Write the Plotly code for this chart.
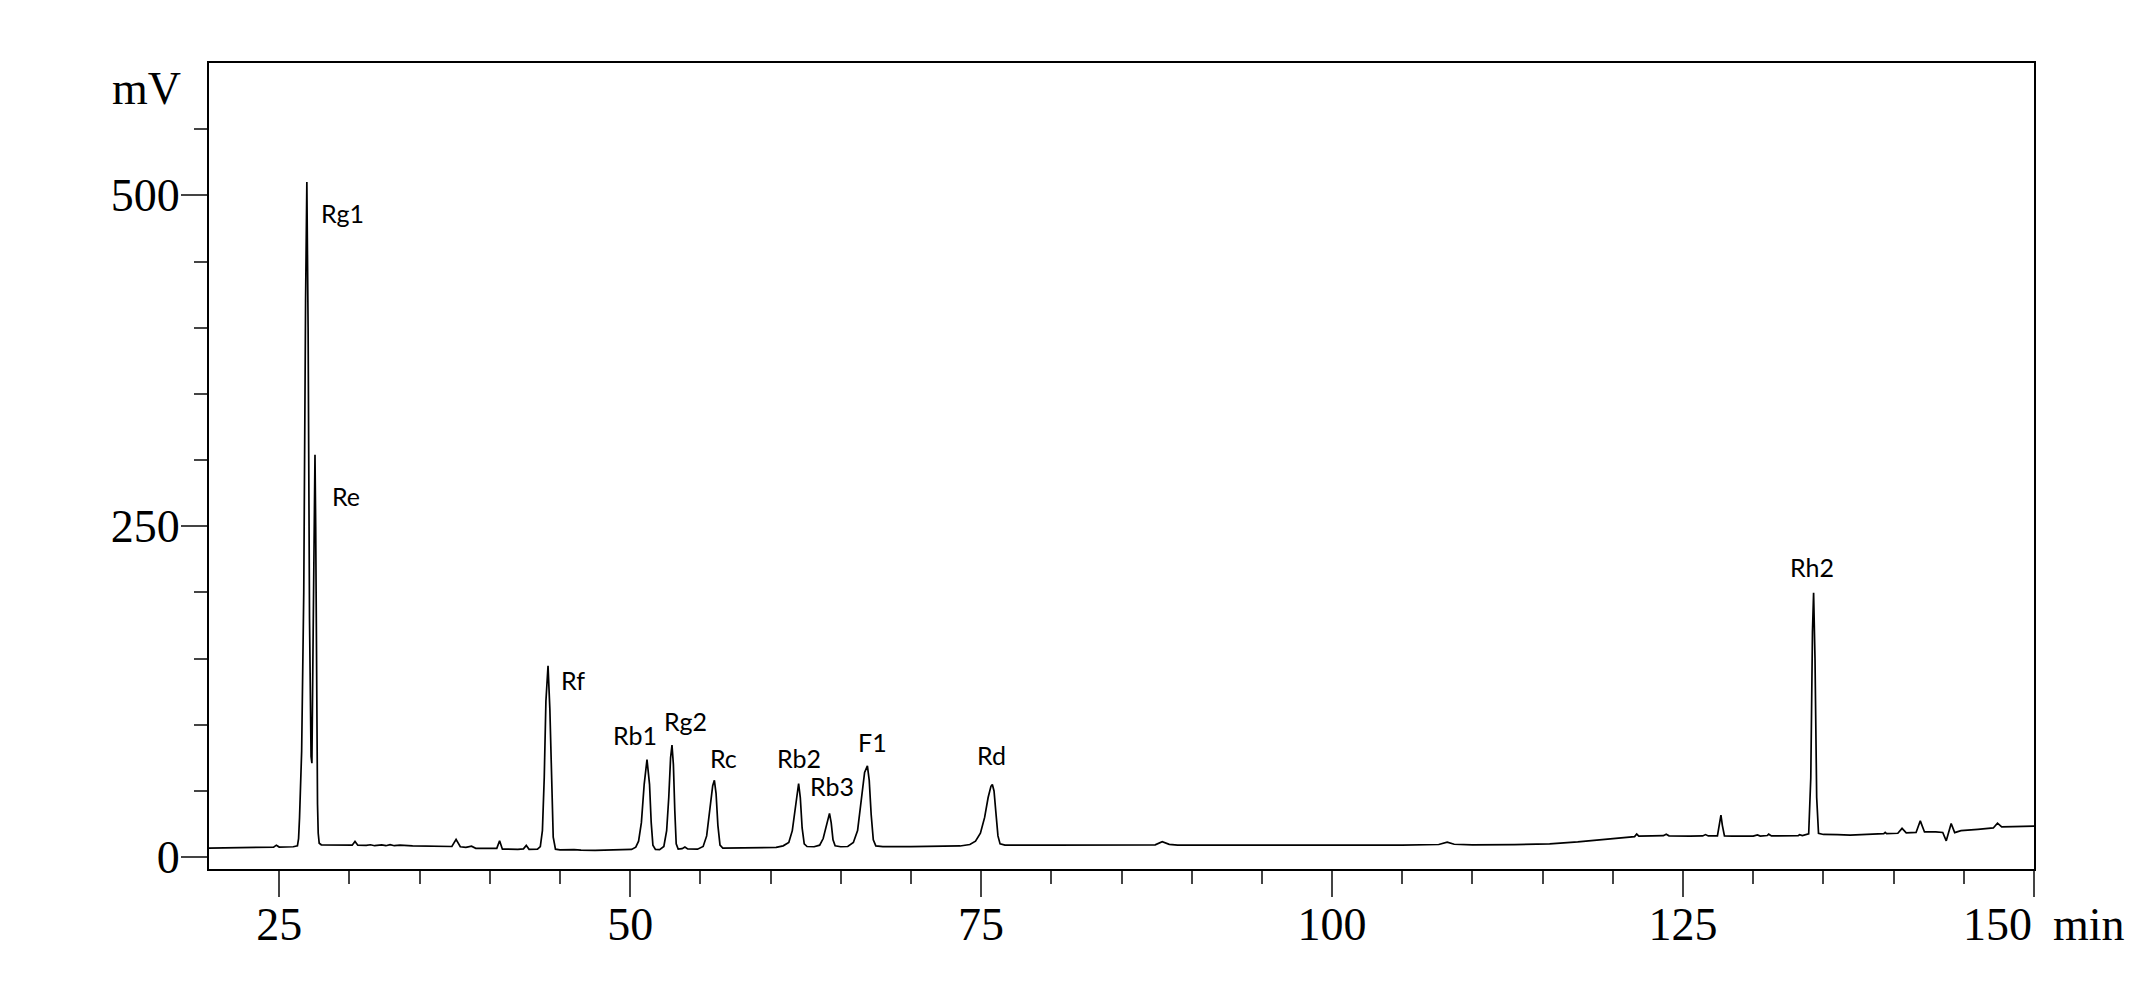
import plotly.graph_objects as go

# chromatogram trace (retention time in min, detector signal in mV)
ret_time = [
    20.0, 22.0, 24.2, 24.6, 24.8, 25.0, 26.0, 26.3, 26.38, 26.45,
    26.6, 26.75, 26.88, 26.97, 27.06, 27.16, 27.27, 27.33, 27.42, 27.5,
    27.55, 27.6, 27.67, 27.73, 27.78, 27.85, 28.0, 29.5, 30.2, 30.4,
    30.6, 31.2, 31.5, 31.8, 32.3, 32.6, 32.9, 33.2, 33.6, 34.5,
    35.5, 36.5, 37.3, 37.6, 37.9, 38.3, 38.7, 39.0, 40.0, 40.5,
    40.7, 40.9, 42.0, 42.4, 42.6, 42.8, 43.4, 43.6, 43.75, 43.88,
    44.0, 44.15, 44.28, 44.4, 44.52, 44.68, 45.0, 46.0, 46.5, 47.5,
    48.5, 49.5, 50.1, 50.4, 50.6, 50.8, 51.0, 51.2, 51.38, 51.5,
    51.62, 51.8, 52.1, 52.4, 52.6, 52.75, 52.88, 52.98, 53.08, 53.18,
    53.28, 53.42, 53.7, 53.9, 54.1, 54.8, 55.2, 55.45, 55.7, 55.88,
    56.0, 56.12, 56.25, 56.4, 56.6, 57.5, 59.0, 60.4, 60.9, 61.3,
    61.55, 61.75, 61.9, 62.0, 62.12, 62.25, 62.4, 62.6, 63.1, 63.5,
    63.75, 63.95, 64.08, 64.2, 64.32, 64.45, 64.6, 65.0, 65.5, 65.9,
    66.2, 66.45, 66.7, 66.9, 67.03, 67.17, 67.32, 67.5, 68.0, 70.0,
    72.0, 73.5, 74.2, 74.6, 74.95, 75.25, 75.5, 75.7, 75.8, 75.92,
    76.05, 76.2, 76.35, 76.7, 80.0, 85.0, 87.4, 87.9, 88.4, 89.0,
    95.0, 100.0, 105.0, 107.6, 108.2, 108.7, 110.0, 113.0, 115.5, 117.5,
    119.6, 121.2, 121.55, 121.7, 121.85, 122.8, 123.6, 123.8, 124.0, 125.5,
    126.4, 126.6, 126.8, 127.45, 127.6, 127.7, 127.8, 127.95, 128.5, 130.0,
    130.3, 130.5, 131.0, 131.1, 131.3, 133.2, 133.3, 133.5, 133.95, 134.1,
    134.22, 134.3, 134.4, 134.52, 134.65, 135.0, 136.0, 136.9, 138.5, 139.3,
    139.4, 139.5, 140.3, 140.6, 140.9, 141.6, 141.9, 142.2, 143.0, 143.5,
    143.75, 144.1, 144.35, 144.8, 146.0, 147.1, 147.4, 147.7, 148.5, 150.0,
]
signal_mv = [
    6.8, 6.9, 7.2, 7.5, 9.0, 7.6, 7.8, 8.5, 14, 30,
    80, 200, 420, 510, 400, 180, 76, 71, 170, 285,
    304, 250, 120, 40, 18, 10.5, 9.3, 9.0, 9.0, 11.8,
    9.0, 8.8, 9.3, 8.6, 9.2, 8.6, 9.4, 8.6, 9.0, 8.4,
    8.3, 8.0, 8.0, 13.4, 7.8, 7.4, 8.2, 6.6, 6.5, 6.6,
    12.3, 6.0, 5.9, 6.2, 8.8, 5.9, 6.0, 8, 20, 60,
    118, 144.6, 112, 50, 15, 6.0, 5.4, 5.6, 5.2, 5.1,
    5.4, 5.5, 5.8, 7.5, 12, 26, 55, 73.7, 55, 26,
    9, 5.8, 5.6, 8, 20, 45, 75, 84.6, 70, 35,
    10, 6.0, 6.4, 7.6, 6.2, 6.0, 8, 16, 38, 54,
    58, 48, 24, 9, 6.8, 6.8, 7.0, 7.3, 8.5, 11,
    20, 36, 51, 55.6, 45, 22, 10, 8.0, 7.8, 9,
    14, 23, 30, 33, 26, 13, 8.5, 7.8, 8.0, 11,
    20, 40, 64, 68.9, 58, 32, 13, 8.5, 7.9, 7.9,
    8.1, 8.4, 9.5, 12, 18, 30, 45, 53.5, 54.8, 50,
    34, 16, 10, 9.0, 9.0, 9.0, 9.3, 11.6, 9.6, 9.1,
    9.0, 9.0, 9.1, 9.5, 11.3, 9.7, 9.3, 9.4, 10.0, 11.5,
    13.4, 15.3, 15.5, 17.4, 15.9, 16.0, 16.2, 17.3, 16.1, 15.9,
    16.0, 17.0, 16.0, 16.0, 24, 31.7, 24, 16, 15.8, 15.9,
    16.8, 15.9, 16.3, 17.3, 16.0, 16.2, 16.9, 16.3, 17.5, 60,
    170, 199.7, 150, 45, 18, 17.1, 16.9, 16.6, 17.3, 17.7,
    18.6, 17.7, 18.0, 21.7, 18.3, 18.6, 27.4, 19.0, 19.0, 18.6,
    12.3, 25.4, 18.5, 20.0, 21.0, 22.0, 25.6, 22.8, 23.0, 23.4,
]

# peak names and where their labels sit
peak_names = ["Rg1", "Re", "Rf", "Rb1", "Rg2", "Rc", "Rb2", "Rb3", "F1", "Rd", "Rh2"]
label_time = [27.86, 28.62, 44.95, 50.32, 53.94, 56.67, 62.0, 64.4, 67.26, 75.72, 134.2]
label_mv = [487, 273, 134, 92.5, 102.7, 75.2, 75.2, 53.6, 86.9, 77.0, 219.0]
label_anchor = ["left", "left", "left", "center", "center", "center", "center", "center", "center", "center", "center"]

x_range = [20, 150]
y_range = [-9, 600]
x_ticks = [25, 50, 75, 100, 125, 150]
x_ticktext = ["25", "50", "75", "100", "125", ""]
x_minor = [30, 35, 40, 45, 55, 60, 65, 70, 80, 85, 90, 95, 105, 110, 115, 120, 130, 135, 140, 145]
y_ticks = [0, 250, 500]
y_minor = [50, 100, 150, 200, 300, 350, 400, 450, 550]

SERIF = "Liberation Serif"
SANS = "Lato"
TICK_GREY = "#444444"


def main() -> None:
    fig = go.Figure()
    fig.add_trace(
        go.Scatter(
            x=ret_time,
            y=signal_mv,
            mode="lines",
            line={"color": "black", "width": 1.7},
            showlegend=False,
            hoverinfo="skip",
        )
    )

    annotations = []
    for name, t, mv, anchor in zip(peak_names, label_time, label_mv, label_anchor):
        annotations.append(
            {
                "x": t, "y": mv, "xref": "x", "yref": "y",
                "text": name, "showarrow": False,
                "xanchor": anchor, "yanchor": "middle",
                "font": {"family": SANS, "size": 25, "color": "black"},
            }
        )
    # axis unit labels and the squeezed last tick label
    annotations.append({"x": -0.0143, "y": 0.968, "xref": "paper", "yref": "paper", "text": "mV",
                        "showarrow": False, "xanchor": "right", "yanchor": "middle",
                        "font": {"family": SERIF, "size": 46, "color": "black"}})
    annotations.append({"x": 150, "y": -0.069, "xref": "x", "yref": "paper", "text": "150",
                        "showarrow": False, "xanchor": "right", "yanchor": "middle",
                        "font": {"family": SERIF, "size": 46, "color": "black"}})
    annotations.append({"x": 150, "y": -0.069, "xref": "x", "yref": "paper", "text": "min",
                        "showarrow": False, "xanchor": "left", "yanchor": "middle", "xshift": 17,
                        "font": {"family": SERIF, "size": 46, "color": "black"}})

    fig.update_layout(
        width=2140,
        height=977,
        margin={"l": 201, "r": 114, "t": 55, "b": 116, "pad": 0},
        paper_bgcolor="white",
        plot_bgcolor="white",
        annotations=annotations,
        showlegend=False,
    )
    fig.update_xaxes(
        range=x_range,
        tickvals=x_ticks,
        ticktext=x_ticktext,
        ticks="outside",
        ticklen=26,
        tickwidth=1.5,
        tickcolor=TICK_GREY,
        minor={"tickvals": x_minor, "ticks": "outside", "ticklen": 13, "tickwidth": 1.5,
               "tickcolor": TICK_GREY, "showgrid": False},
        showline=True,
        linecolor="black",
        linewidth=2,
        mirror=True,
        showgrid=False,
        zeroline=False,
        ticklabelstandoff=-12,
        tickfont={"family": SERIF, "size": 46, "color": "black"},
    )
    fig.update_yaxes(
        range=y_range,
        tickvals=y_ticks,
        ticks="outside",
        ticklen=26,
        tickwidth=1.5,
        tickcolor=TICK_GREY,
        minor={"tickvals": y_minor, "ticks": "outside", "ticklen": 13, "tickwidth": 1.5,
               "tickcolor": TICK_GREY, "showgrid": False},
        showline=True,
        linecolor="black",
        linewidth=2,
        mirror=True,
        showgrid=False,
        zeroline=False,
        ticklabelstandoff=-8,
        tickfont={"family": SERIF, "size": 46, "color": "black"},
    )

    fig.write_html("out.html")


if __name__ == "__main__":
    main()
